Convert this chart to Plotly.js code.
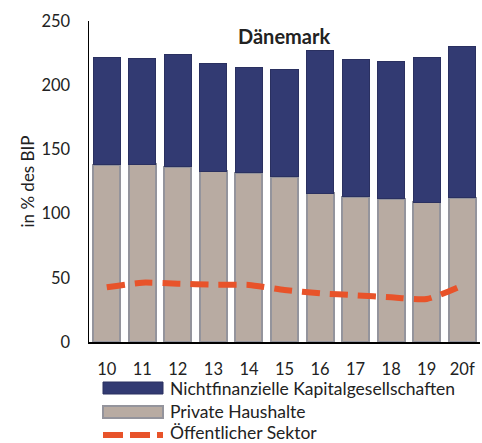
<!DOCTYPE html>
<html><head><meta charset="utf-8">
<script src="https://cdn.plot.ly/plotly-3.0.1.min.js"></script>
<style>html,body{margin:0;padding:0;background:#fff}</style>
</head><body>
<div id="chart" style="width:482px;height:443px"></div>
<script>
const years = ["10","11","12","13","14","15","16","17","18","19","20f"];
const privateHouseholds = [138.1,138.6,136.5,132.9,131.9,128.8,116.0,113.2,111.4,109.0,112.4];
const nonFinancialCorps = [83.3,82.4,87.8,84.1,82.0,83.2,110.9,107.2,107.2,112.4,117.4];
const publicSector = [42.6,46.2,45.4,44.6,44.4,40.5,37.9,36.4,34.8,33.5,44.0];
const legendLabels = ["Nichtfinanzielle Kapitalgesellschaften","Private Haushalte","Öffentlicher Sektor"];

const font = "Lato, 'Open Sans', sans-serif";
const navy = "#323a72", taupe = "#b8aba2", taupeLine = "#94949c", orange = "#e8532a";
const M = {l:89, r:2, t:21, b:101}, W = 482, H = 443;
const pw = W - M.l - M.r, ph = H - M.t - M.b;
const px = v => (v - M.l) / pw;           // pixel -> paper x
const py = v => (H - M.b - v) / ph;       // pixel -> paper y

const traces = [
  {type:"bar", x:years, y:privateHouseholds, name:legendLabels[1], showlegend:false,
   marker:{color:taupe, line:{color:taupeLine, width:2}}},
  {type:"bar", x:years, y:nonFinancialCorps, name:legendLabels[0], showlegend:false,
   marker:{color:navy, line:{color:"#2a3060", width:1}}},
  {type:"scatter", mode:"lines", x:years, y:publicSector, name:legendLabels[2], showlegend:false,
   line:{color:orange, width:6, dash:"18px,10px", shape:"spline", smoothing:0.6}}
];

const legendY = [388.5, 411.5, 432.5];
const shapes = [
  {type:"rect", xref:"paper", yref:"paper", x0:px(103), x1:px(163), y0:py(382), y1:py(394),
   fillcolor:navy, line:{color:"#2a3060", width:1}},
  {type:"rect", xref:"paper", yref:"paper", x0:px(103), x1:px(163), y0:py(406), y1:py(418),
   fillcolor:taupe, line:{color:taupeLine, width:2}},
  {type:"line", xref:"paper", yref:"paper", x0:px(103), x1:px(163), y0:py(435), y1:py(435),
   line:{color:orange, width:6, dash:"20px,7px"}}
];
const legendFont = {family:font, size:17.5, color:"#222"};
const annotations = [
  {text:"<b>Dänemark</b>", xref:"paper", yref:"paper", x:px(284), y:py(36), showarrow:false,
   xanchor:"center", yanchor:"middle", font:{family:font, size:20, color:"#222"}}
].concat(legendLabels.map((t,i)=>({text:t, xref:"paper", yref:"paper", x:px(169), y:py(legendY[i]),
   xanchor:"left", yanchor:"middle", showarrow:false, borderpad:0, font:legendFont})));

const layout = {
  width:W, height:H, barmode:"stack", bargap:0.24,
  margin:M, paper_bgcolor:"#fff", plot_bgcolor:"#fff",
  font:{family:font, size:16.5, color:"#222"},
  showlegend:false,
  xaxis:{type:"category", showline:true, linecolor:"#000", linewidth:1.5, ticks:"",
         ticklabelstandoff:12, showgrid:false, zeroline:false, fixedrange:true},
  yaxis:{range:[0,250], tickvals:[0,50,100,150,200,250], showline:true, linecolor:"#000", linewidth:1.5,
         ticks:"", ticklabelstandoff:14, showgrid:false, zeroline:false,
         title:{text:"in % des BIP", font:{family:font, size:17, color:"#222"}, standoff:2}},
  shapes:shapes, annotations:annotations
};
Plotly.newPlot("chart", traces, layout, {displayModeBar:false, staticPlot:true});
</script>
</body></html>
